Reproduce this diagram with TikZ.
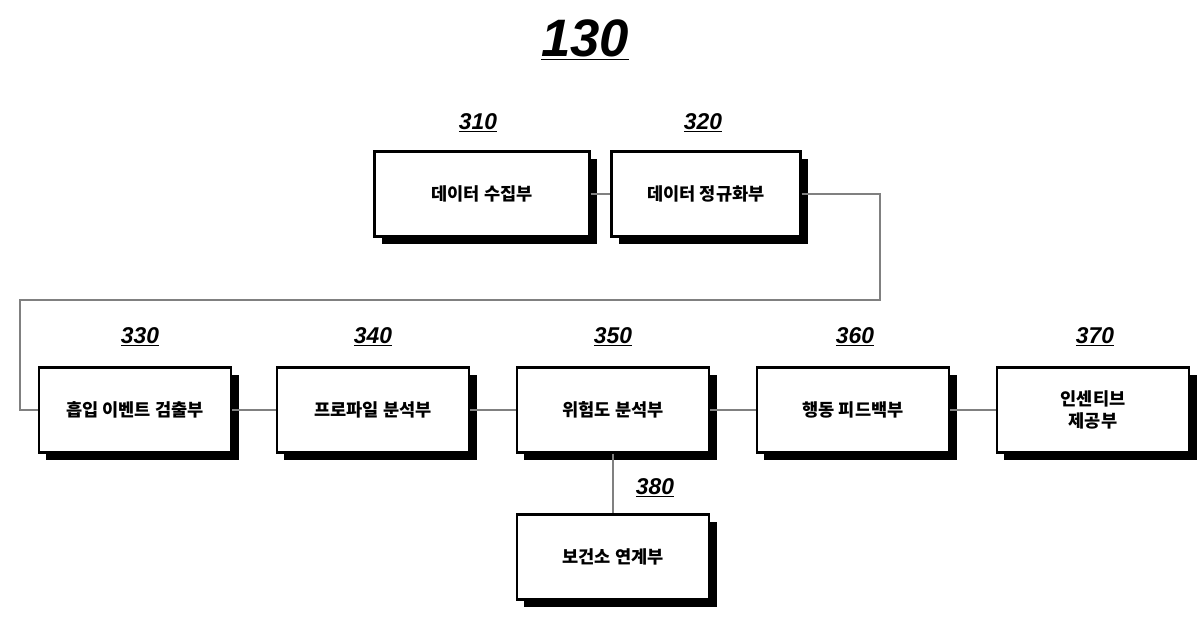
\documentclass[tikz,border=0pt]{standalone}
\usepackage{fontspec}
\setmainfont{Noto Sans CJK KR}
\newfontfamily\numfont{Liberation Sans}
\usetikzlibrary{shadows}
\tikzset{
  block/.style={draw, line width=1.2pt, fill=white, minimum width=3.85cm, minimum height=1.7cm,
    align=center, font=\bfseries\fontsize{10}{13}\selectfont,
    drop shadow={shadow xshift=0.15cm, shadow yshift=-0.15cm, opacity=1, fill=black}},
  num/.style={font=\numfont\bfseries\itshape\fontsize{13}{15}\selectfont},
  link/.style={draw=gray, line width=0.6pt}
}
\begin{document}
\begin{tikzpicture}[x=0.02cm, y=-0.02cm]
  \useasboundingbox (0,0) rectangle (1200,616);
  \node [font=\numfont\bfseries\itshape\fontsize{30}{34}\selectfont] (title) at (585,40) {\underline{130}};
  % top row
  \node [block, minimum width=4.3cm] (collect) at (482,194) {데이터 수집부};
  \node [block, minimum width=3.78cm] (normal) at (706,194) {데이터 정규화부};
  % middle row
  \node [block] (detect) at (135,410) {흡입 이벤트 검출부};
  \node [block] (profile) at (373,410) {프로파일 분석부};
  \node [block] (risk) at (613,410) {위험도 분석부};
  \node [block] (feedback) at (853,410) {행동 피드백부};
  \node [block] (reward) at (1093,410) {인센티브\\제공부};
  % bottom
  \node [block] (health) at (613,557) {보건소 연계부};
  % numbers
  \foreach \n/\x/\y in {310/478/123, 320/703/123, 330/140/337, 340/373/337,
                        350/613/337, 360/855/337, 370/1095/337, 380/655/488}
    \node [num] (n\n) at (\x,\y) {\underline{\n}};
  % connectors
  \coordinate (c1) at (880,300);
  \coordinate (c2) at (20,300);
  \draw [link] (collect) -- (normal);
  \draw [link] (normal.east) -| (c1) -- (c2) |- (detect.west);
  \draw [link] (detect) -- (profile);
  \draw [link] (profile) -- (risk);
  \draw [link] (risk) -- (feedback);
  \draw [link] (feedback) -- (reward);
  \draw [link] (risk) -- (health);
\end{tikzpicture}
\end{document}
